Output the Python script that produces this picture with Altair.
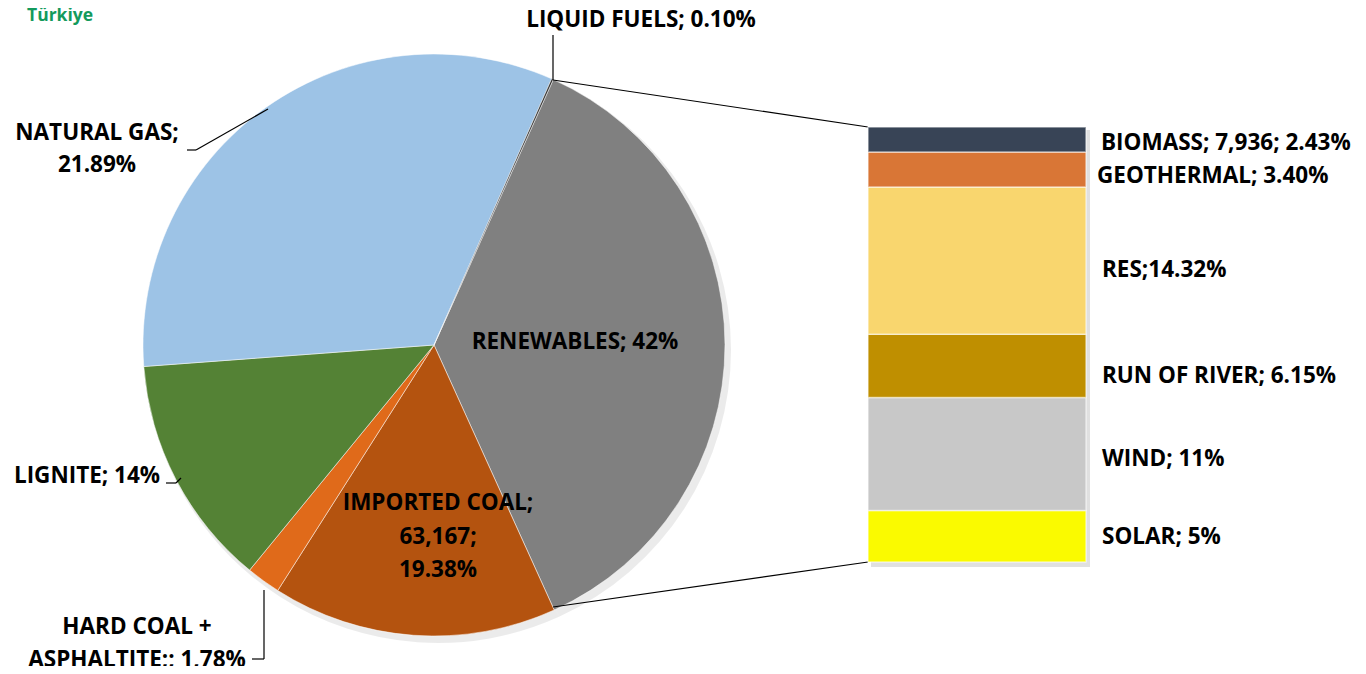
import math
import altair as alt
import pandas as pd

# ---------------- data ----------------
pie_categories = ["RENEWABLES", "IMPORTED COAL", "HARD COAL + ASPHALTITE", "LIGNITE", "NATURAL GAS", "LIQUID FUELS"]
# slice shares as drawn in the picture (degrees of arc, in %)
pie_shares = [36.5, 15.8, 1.9, 12.9, 32.8, 0.1]
pie_colors = ["#808080", "#B4530F", "#E06A1A", "#548235", "#9DC3E6", "#2F2F2F"]

bar_categories = ["SOLAR", "WIND", "RUN OF RIVER", "RES", "GEOTHERMAL", "BIOMASS"]
bar_values = [5.0, 11.0, 6.15, 14.32, 3.40, 2.43]
bar_colors = ["#FAFA00", "#C8C8C8", "#BF8F00", "#F9D66E", "#D97636", "#384456"]

pie_labels = [
    ["LIQUID FUELS; 0.10%"],
    ["NATURAL GAS;", "21.89%"],
    ["RENEWABLES; 42%"],
    ["LIGNITE; 14%"],
    ["IMPORTED COAL;", "63,167;", " 19.38%"],
    ["HARD COAL +", "ASPHALTITE;; 1,78%"],
]
bar_labels = ["SOLAR; 5%", "WIND; 11%", "RUN OF RIVER; 6.15%", "RES;14.32%", "GEOTHERMAL; 3.40%", "BIOMASS; 7,936; 2.43%"]

# ---------------- layout (image pixels) ----------------
M = 8  # page margin
W, H = 1366 - 2 * M, 674 - 2 * M
def px(x):
    return x - M

cx, cy, R = 434, 345, 291
start = math.radians(24.2)
FONT = "Open Sans"
FS = 22.5

pie_df = pd.DataFrame({"cat": pie_categories, "share": pie_shares, "color": pie_colors,
                       "idx": list(range(len(pie_categories)))})
bar_df = pd.DataFrame({"cat": bar_categories, "val": bar_values, "color": bar_colors,
                       "idx": list(range(len(bar_categories)))})

theta_scale = alt.Scale(domain=[0, sum(pie_shares)], range=[start, start + 2 * math.pi], nice=False)

shadow = alt.Chart(pie_df).mark_arc(outerRadius=R + 2, color="#000000", opacity=0.08).encode(
    theta=alt.Theta("share:Q", stack=True, scale=theta_scale),
    order=alt.Order("idx:Q"),
    x=alt.value(px(cx) + 4), y=alt.value(px(cy) + 5),
)

pie = alt.Chart(pie_df).mark_arc(outerRadius=R, stroke="#FFFFFF", strokeWidth=1, strokeOpacity=0.5).encode(
    theta=alt.Theta("share:Q", stack=True, scale=theta_scale),
    order=alt.Order("idx:Q"),
    color=alt.Color("color:N", scale=None),
    x=alt.value(px(cx)), y=alt.value(px(cy)),
)

bar_top, bar_bot = 127, 562
bar_x0, bar_x1 = 868, 1086
yscale = alt.Scale(domain=[0, sum(bar_values)], range=[px(bar_bot), px(bar_top)], nice=False, zero=True)

bar_shadow = alt.Chart(pd.DataFrame({"v": [0]})).mark_rect(color="#000000", opacity=0.12).encode(
    x=alt.value(px(bar_x0) + 3), x2=alt.value(px(bar_x1) + 4),
    y=alt.value(px(bar_top) + 3), y2=alt.value(px(bar_bot) + 5),
)

bars = alt.Chart(bar_df).transform_stack(
    stack="val", groupby=[], as_=["v0", "v1"], sort=[alt.SortField("idx", order="ascending")]
).mark_rect(stroke="#FFFFFF", strokeWidth=1.5, strokeOpacity=0.55).encode(
    x=alt.value(px(bar_x0)), x2=alt.value(px(bar_x1)),
    y=alt.Y("v0:Q", scale=yscale, axis=None), y2="v1:Q",
    color=alt.Color("color:N", scale=None),
)

# connector / leader lines (image pixel coordinates)
segments = [
    (553, 80, 868, 127), (553, 607, 868, 562),
    (553, 35, 553, 80),
    (187, 150, 196, 150), (196, 150, 268, 109),
    (166, 483, 176, 483), (176, 483, 181, 478),
    (252, 659, 264, 659), (264, 659, 264, 590),
]
seg_df = pd.DataFrame([{"x": px(a), "y": px(b), "x2": px(c), "y2": px(d)} for a, b, c, d in segments])
lines = alt.Chart(seg_df).mark_rule(color="#000000", strokeWidth=1.2).encode(
    x=alt.X("x:Q", scale=None, axis=None), y=alt.Y("y:Q", scale=None, axis=None),
    x2="x2:Q", y2="y2:Q",
)

# label positions: (x, first line y, align, line step)
pie_label_pos = [
    (641, 20, "center", 0),
    (97, 133, "center", 32),
    (575, 342, "center", 0),
    (87, 476, "center", 0),
    (438, 503, "center", 33.5),
    (137, 627, "center", 33),
]
rows = []
for lines_txt, (x, y, al, step) in zip(pie_labels, pie_label_pos):
    for i, t in enumerate(lines_txt):
        rows.append({"t": t, "x": px(x), "y": px(y + i * step), "al": al})
bar_label_pos = [(1102, 537), (1102, 459), (1102, 376), (1102, 270), (1097, 176), (1101, 143)]
for t, (x, y) in zip(bar_labels, bar_label_pos):
    rows.append({"t": t, "x": px(x), "y": px(y), "al": "left"})
lab_df = pd.DataFrame(rows)

def text_layer(df, align):
    return alt.Chart(df).mark_text(font=FONT, fontSize=FS, fontWeight="bold", color="#000000",
                                   align=align, baseline="middle").encode(
        x=alt.X("x:Q", scale=None, axis=None), y=alt.Y("y:Q", scale=None, axis=None), text="t:N")

t_center = text_layer(lab_df[lab_df.al == "center"], "center")
t_left = text_layer(lab_df[lab_df.al == "left"], "left")

title = alt.Chart(pd.DataFrame({"t": ["Türkiye"]})).mark_text(
    font=FONT, fontSize=17.5, fontWeight="bold", color="#149A5C", align="left", baseline="middle"
).encode(x=alt.value(px(27)), y=alt.value(px(16)), text="t:N")

chart = alt.layer(shadow, pie, lines, bar_shadow, bars, t_center, t_left, title).properties(
    width=W, height=H, padding=0, autosize=alt.AutoSizeParams(type="none")
).configure_view(stroke=None)

chart.save("out.html", embed_options={"renderer": "svg", "actions": False})
